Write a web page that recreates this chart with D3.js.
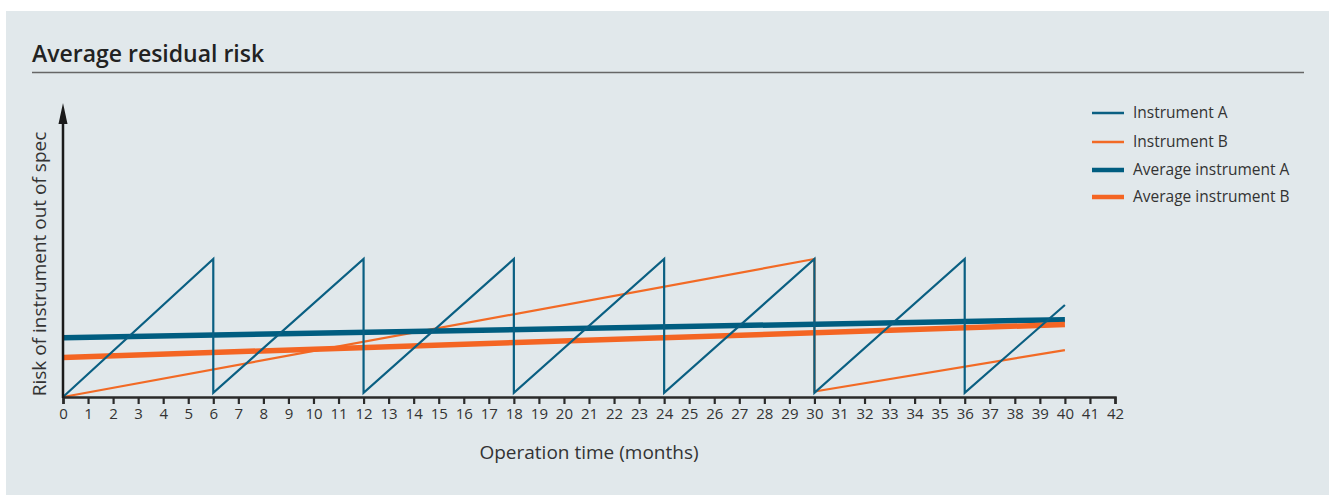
<!DOCTYPE html>
<html><head><meta charset="utf-8">
<script src="https://cdn.jsdelivr.net/npm/d3@7"></script>
<style>body{margin:0;background:#fff}svg{display:block}text{font-family:"Open Sans","Noto Sans",sans-serif}</style>
</head><body><svg id="c" width="1329" height="496"></svg>
<script>
const xTicks = d3.range(0, 43);
const instrumentA = [[0,0],[6,1],[6,0.03],[12,1],[12,0.03],[18,1],[18,0.03],[24,1],[24,0.03],[30,1],[30,0.03],[36,1],[36,0.03],[40,0.667]];
const instrumentB = [[0,0],[30,1],[30,0.04],[40,0.34]];
const averageA = [[0,0.43],[40,0.56]];
const averageB = [[0,0.287],[40,0.525]];
const legendItems = [
  {label:"Instrument A", color:"#0a5f82", w:2.5},
  {label:"Instrument B", color:"#f26a25", w:2.5},
  {label:"Average instrument A", color:"#005d80", w:4.5},
  {label:"Average instrument B", color:"#f46523", w:4.5}
];

const svg = d3.select("#c");
svg.append("rect").attr("x",6).attr("y",11).attr("width",1323).attr("height",484).attr("fill","#e1e8eb");
svg.append("text").attr("x",32).attr("y",62).attr("font-size",23).attr("font-weight",600).attr("fill","#222").text("Average residual risk");
svg.append("line").attr("x1",32).attr("x2",1304).attr("y1",72.5).attr("y2",72.5).attr("stroke","#666").attr("stroke-width",1.5);

const x = d3.scaleLinear().domain([0,42]).range([63,1115]);
const y = d3.scaleLinear().domain([0,1]).range([397,259]);
const line = d3.line().x(d=>x(d[0])).y(d=>y(d[1]));

svg.append("path").datum(instrumentB).attr("d",line).attr("fill","none").attr("stroke","#f26a25").attr("stroke-width",2.2);
svg.append("path").datum(averageA).attr("d",line).attr("fill","none").attr("stroke","#005d80").attr("stroke-width",5.5);
svg.append("path").datum(averageB).attr("d",line).attr("fill","none").attr("stroke","#f46523").attr("stroke-width",5.5);
svg.append("path").datum(instrumentA).attr("d",line).attr("fill","none").attr("stroke","#0a5f82").attr("stroke-width",2.2);

const ax = svg.append("g").attr("transform","translate(0,397)")
  .call(d3.axisBottom(x).tickValues(xTicks).tickFormat(d3.format("d")).tickSizeOuter(0).tickSize(7).tickPadding(4));
ax.select(".domain").attr("stroke","#2a2a2a").attr("stroke-width",2.5);
ax.selectAll(".tick line").attr("stroke","#2a2a2a").attr("stroke-width",2.2);
ax.selectAll(".tick text").attr("font-size",15).attr("fill","#333").attr("font-family","'Open Sans','Noto Sans',sans-serif");

svg.append("line").attr("x1",63).attr("x2",63).attr("y1",398).attr("y2",120).attr("stroke","#1a1a1a").attr("stroke-width",2.5);
svg.append("path").attr("d","M63,103 L67.5,124 L58.5,124 Z").attr("fill","#1a1a1a");

svg.append("text").attr("x",589).attr("y",459).attr("text-anchor","middle").attr("font-size",19).attr("fill","#333").text("Operation time (months)");
svg.append("text").attr("transform","translate(46,264) rotate(-90)").attr("text-anchor","middle").attr("font-size",19).attr("fill","#333").text("Risk of instrument out of spec");

const lg = svg.append("g");
legendItems.forEach((d,i)=>{
  const yy = [113,142,170,197][i];
  lg.append("line").attr("x1",1092).attr("x2",1124).attr("y1",yy).attr("y2",yy).attr("stroke",d.color).attr("stroke-width",d.w);
  lg.append("text").attr("x",1133).attr("y",yy+5).attr("font-size",15.5).attr("fill","#333").text(d.label);
});
</script></body></html>
